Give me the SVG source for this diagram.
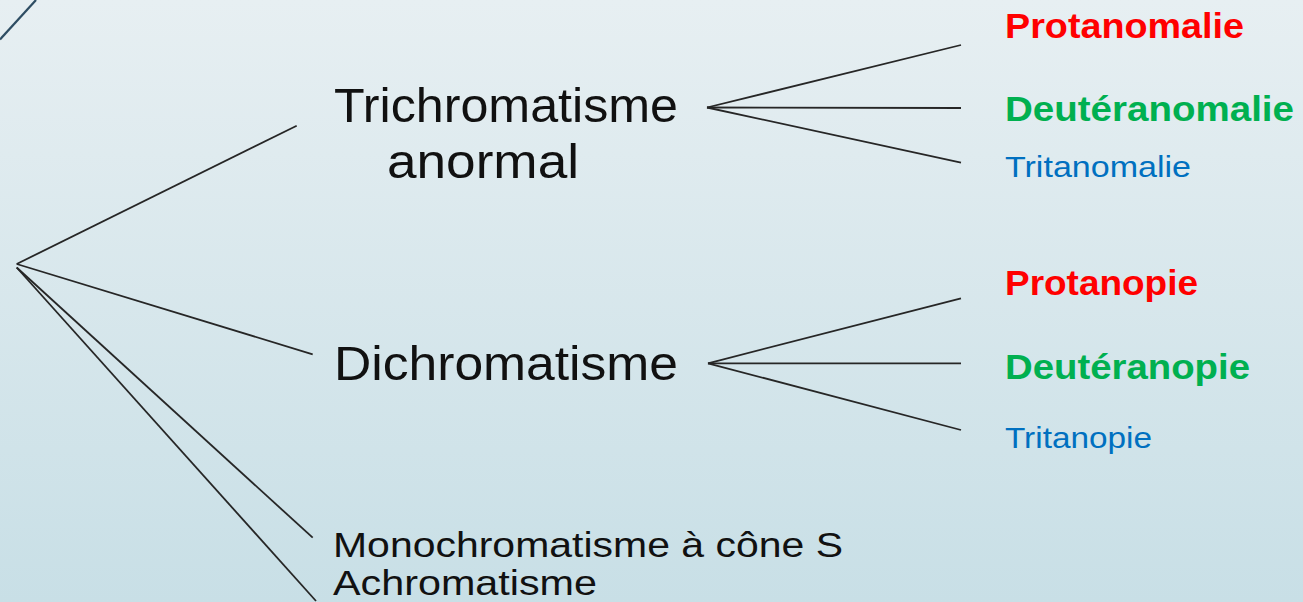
<svg xmlns="http://www.w3.org/2000/svg" width="1303" height="602" viewBox="0 0 1303 602">
  <defs>
    <linearGradient id="bg" x1="0" y1="0" x2="0" y2="1">
      <stop offset="0" stop-color="#e7eff2"/>
      <stop offset="1" stop-color="#c8dfe6"/>
    </linearGradient>
    <style>
      .conn line { stroke: #262626; stroke-width: 1.8; fill: none; }
      .main { font-family: "Liberation Sans", Arial, sans-serif; fill: #111111; }
      .big { font-size: 48px; }
      .mid { font-size: 35px; }
      .bold { font-family: "Liberation Sans", Arial, sans-serif; font-weight: bold; font-size: 35px; }
      .red { fill: #ff0000; }
      .green { fill: #00b050; }
      .blue { font-family: "Liberation Sans", Arial, sans-serif; font-size: 30px; fill: #0070c0; }
    </style>
  </defs>
  <rect x="0" y="0" width="1303" height="602" fill="url(#bg)"/>
  <line x1="0" y1="39.5" x2="36" y2="0" stroke="#2e4d63" stroke-width="2.2"/>

  <g id="connectors" class="conn">
    <line x1="16.7" y1="264" x2="296.7" y2="125.7"/>
    <line x1="16.7" y1="264" x2="312.7" y2="354.3"/>
    <line x1="16.7" y1="267.5" x2="312.7" y2="537.7"/>
    <line x1="16.7" y1="267.5" x2="316" y2="601"/>
    <line x1="707" y1="107.5" x2="961" y2="45"/>
    <line x1="707" y1="107.5" x2="961" y2="108"/>
    <line x1="707" y1="107.5" x2="961" y2="162.7"/>
    <line x1="708" y1="363.3" x2="961" y2="298.3"/>
    <line x1="708" y1="363.3" x2="961" y2="363.3"/>
    <line x1="708" y1="363.3" x2="961" y2="430"/>
  </g>

  <g id="trichromatisme">
    <text class="main big" x="334" y="122" textLength="344" lengthAdjust="spacingAndGlyphs">Trichromatisme</text>
    <text class="main big" x="387" y="178" textLength="192" lengthAdjust="spacingAndGlyphs">anormal</text>
  </g>
  <g id="dichromatisme">
    <text class="main big" x="334" y="380" textLength="344" lengthAdjust="spacingAndGlyphs">Dichromatisme</text>
  </g>
  <g id="monochromatisme">
    <text class="main mid" x="333" y="557" textLength="510" lengthAdjust="spacingAndGlyphs">Monochromatisme à cône S</text>
  </g>
  <g id="achromatisme">
    <text class="main mid" x="333" y="595" textLength="264" lengthAdjust="spacingAndGlyphs">Achromatisme</text>
  </g>

  <g id="protanomalie">
    <text class="bold red" x="1005" y="37.5" textLength="239" lengthAdjust="spacingAndGlyphs">Protanomalie</text>
  </g>
  <g id="deuteranomalie">
    <text class="bold green" x="1005" y="121" textLength="289" lengthAdjust="spacingAndGlyphs">Deutéranomalie</text>
  </g>
  <g id="tritanomalie">
    <text class="blue" x="1005" y="177" textLength="186" lengthAdjust="spacingAndGlyphs">Tritanomalie</text>
  </g>
  <g id="protanopie">
    <text class="bold red" x="1005" y="295" textLength="193" lengthAdjust="spacingAndGlyphs">Protanopie</text>
  </g>
  <g id="deuteranopie">
    <text class="bold green" x="1005" y="379" textLength="245" lengthAdjust="spacingAndGlyphs">Deutéranopie</text>
  </g>
  <g id="tritanopie">
    <text class="blue" x="1005" y="448" textLength="147" lengthAdjust="spacingAndGlyphs">Tritanopie</text>
  </g>
</svg>
